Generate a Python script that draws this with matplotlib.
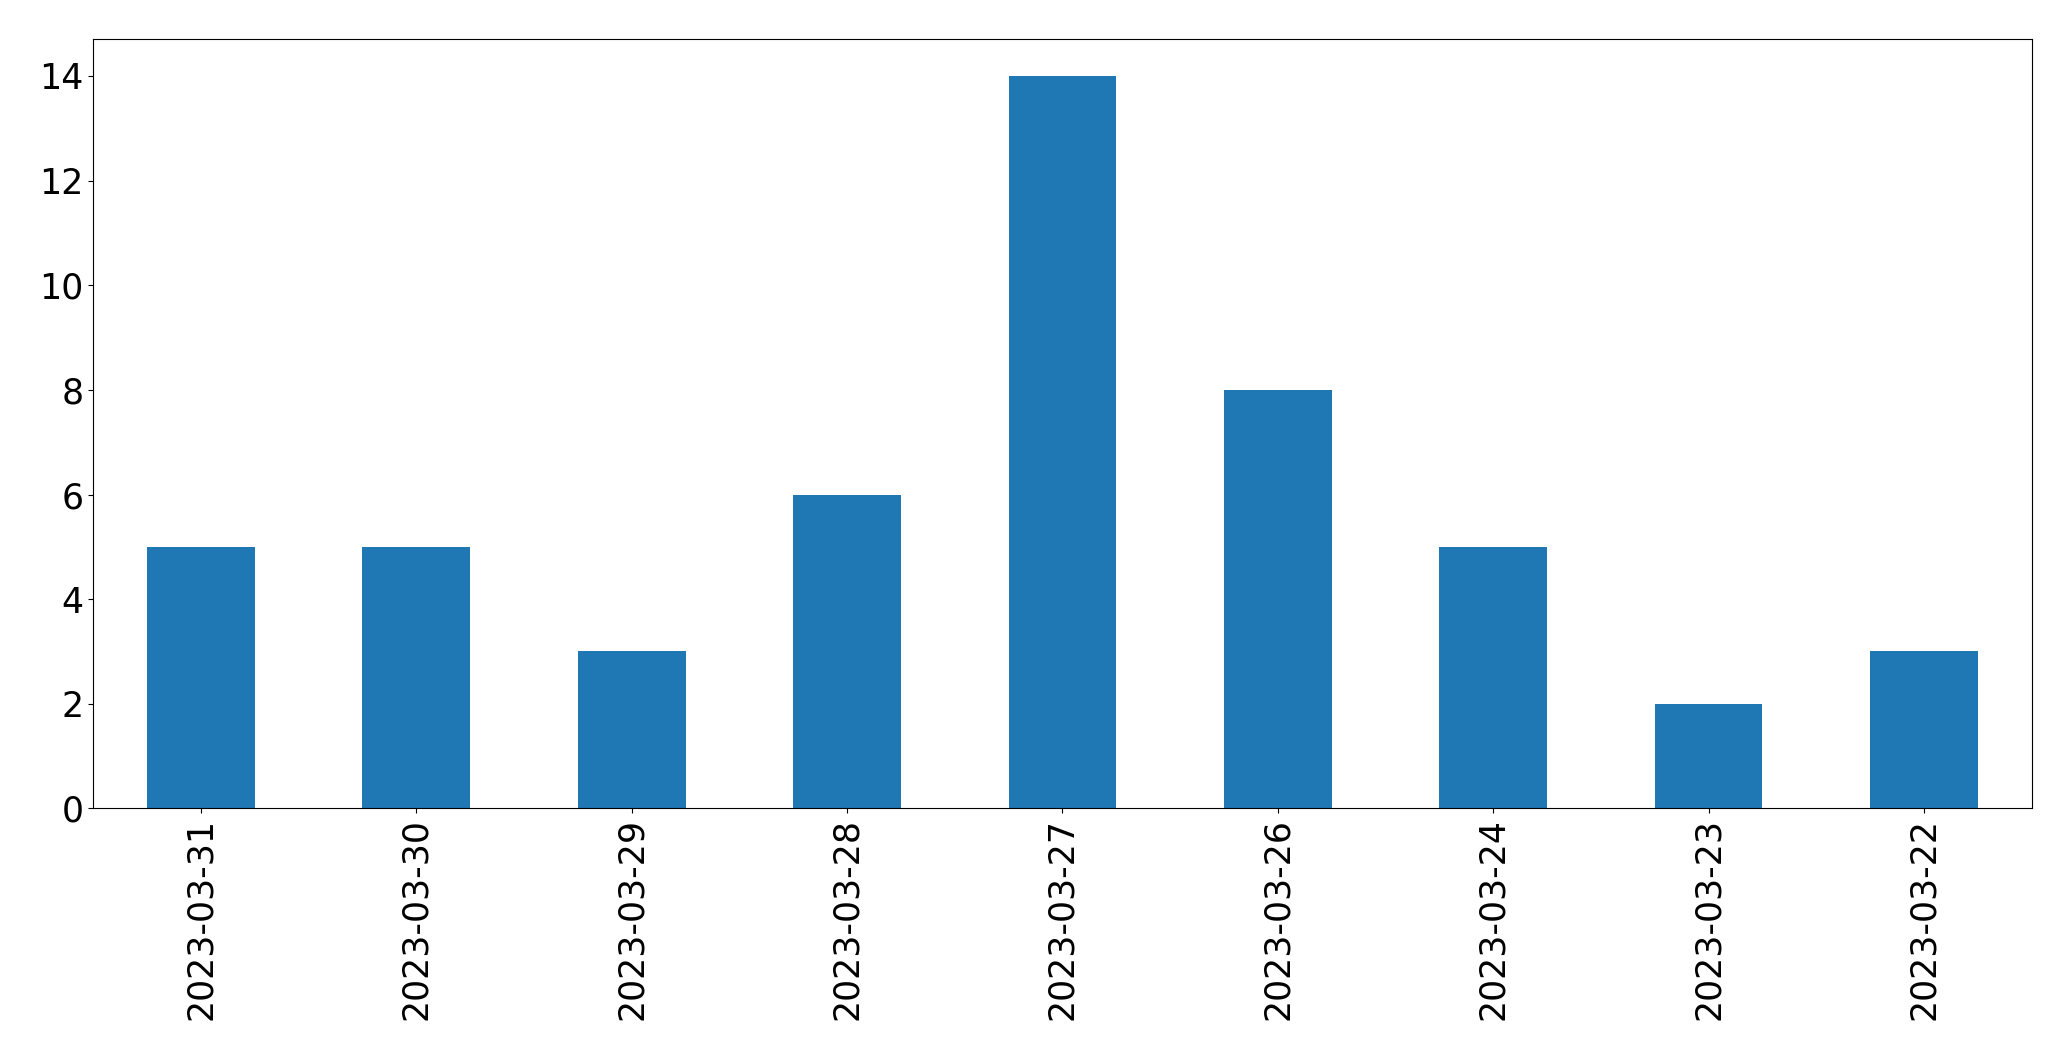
import matplotlib
matplotlib.use("Agg")
import matplotlib.pyplot as plt
import pandas as pd

dates = [
    "2023-03-31", "2023-03-30", "2023-03-29", "2023-03-28", "2023-03-27",
    "2023-03-26", "2023-03-24", "2023-03-23", "2023-03-22",
]
counts = [5, 5, 3, 6, 14, 8, 5, 2, 3]

s = pd.Series(counts, index=dates)

fig, ax = plt.subplots(figsize=(20.71, 10.61), dpi=100)
s.plot(kind="bar", ax=ax, color="#1f77b4", fontsize=25)
ax.tick_params(axis="both", labelsize=25)

fig.subplots_adjust(left=0.045, right=0.981, top=0.963, bottom=0.238)
fig.savefig("out.png", dpi=100)
